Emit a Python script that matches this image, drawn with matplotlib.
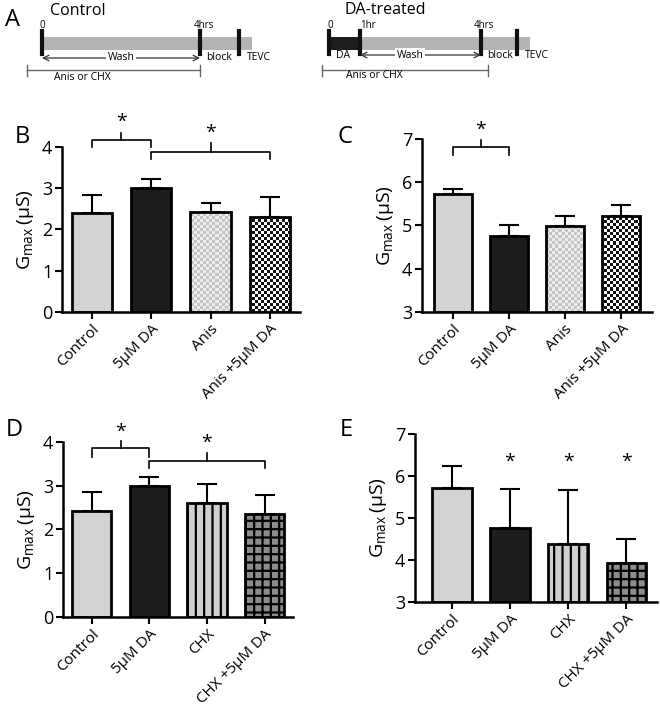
import numpy as np
import matplotlib
matplotlib.use("Agg")
import matplotlib.pyplot as plt
from matplotlib.colors import ListedColormap

plt.rcParams['font.family'] = ['Open Sans', 'DejaVu Sans']
plt.rcParams['mathtext.default'] = 'regular'
plt.rcParams['hatch.linewidth'] = 1.6

# data
labels_anis = ["Control", "5μM DA", "Anis", "Anis +5μM DA"]
labels_chx = ["Control", "5μM DA", "CHX", "CHX +5μM DA"]

b_vals = [2.40, 3.00, 2.42, 2.30]
b_tops = [2.83, 3.22, 2.65, 2.78]
c_vals = [5.72, 4.76, 4.99, 5.22]
c_tops = [5.85, 5.02, 5.22, 5.48]
d_vals = [2.42, 3.00, 2.61, 2.35]
d_tops = [2.85, 3.21, 3.05, 2.78]
e_vals = [5.72, 4.76, 4.38, 3.93]
e_tops = [6.24, 5.69, 5.67, 4.49]

W, H = 660, 720
fig = plt.figure(figsize=(W / 100, H / 100), dpi=100)


def texture(ax, bar, c1, c2, cell):
    x0, x1 = ax.get_xlim()
    y0, y1 = ax.get_ylim()
    pos = ax.get_position()
    nx = int(pos.width * W / cell)
    ny = int(pos.height * H / cell)
    ii, jj = np.indices((ny, nx))
    arr = (ii + jj) % 2
    im = ax.imshow(arr, cmap=ListedColormap([c1, c2]), extent=(x0, x1, y0, y1),
                   aspect='auto', interpolation='nearest', zorder=2)
    im.set_clip_path(bar)
    ax.set_xlim(x0, x1)
    ax.set_ylim(y0, y1)


def bracket(ax, xa, xb, y, arm, tick, star_y):
    ax.plot([xa, xa, xb, xb], [y - arm, y, y, y - arm], color='k', lw=1.2, clip_on=False)
    xm = (xa + xb) / 2
    ax.plot([xm, xm], [y, y + tick], color='k', lw=1.2, clip_on=False)
    ax.text(xm, star_y, '*', ha='center', va='center', fontsize=14, clip_on=False)


def panel(rect, vals, tops, labels, ylim, styles, xlim):
    ax = fig.add_axes(rect)
    x = np.arange(len(vals))
    ax.set_xlim(*xlim)
    ax.set_ylim(*ylim)
    base = ylim[0]
    heights = [v - base for v in vals]
    errs = [t - v for v, t in zip(vals, tops)]
    ax.errorbar(x, vals, yerr=[np.zeros(len(vals)), errs], fmt='none', ecolor='k',
                elinewidth=1.5, capsize=7, capthick=1.5, zorder=1)
    for i, st in enumerate(styles):
        kind = st[0]
        if kind == 'solid':
            ax.bar(x[i], heights[i], bottom=base, width=0.68, color=st[1],
                   edgecolor='k', linewidth=2, zorder=2)
        elif kind == 'hatch':
            ax.bar(x[i], heights[i], bottom=base, width=0.68, color=st[1],
                   edgecolor='k', hatch=st[2], linewidth=2, zorder=2)
        else:
            b = ax.bar(x[i], heights[i], bottom=base, width=0.68, color='white',
                       edgecolor='none', linewidth=0, zorder=2)[0]
            texture(ax, b, st[1], st[2], st[3])
            ax.bar(x[i], heights[i], bottom=base, width=0.68, fill=False,
                   edgecolor='k', linewidth=2, zorder=3)
    for s in ['top', 'right']:
        ax.spines[s].set_visible(False)
    for s in ['left', 'bottom']:
        ax.spines[s].set_linewidth(1.8)
    ax.spines['bottom'].set_zorder(4)
    ax.set_yticks(np.arange(ylim[0], ylim[1] + 1, 1))
    ax.tick_params(width=1.5, length=5, labelsize=13, pad=2)
    ax.set_xticks(x)
    ax.set_xticklabels(labels, rotation=45, ha='right', rotation_mode='anchor', fontsize=11)
    ax.set_ylabel('G$_{max}$\u2009(μS)', fontsize=14, labelpad=4)
    return ax


anis_styles = [('solid', '#d2d2d2'), ('solid', '#1c1c1c'),
               ('tex', '#ececec', '#c4c4c4', 3), ('tex', '#ffffff', '#111111', 3)]
chx_styles = [('solid', '#d2d2d2'), ('solid', '#1c1c1c'),
              ('hatch', '#cfcfcf', '||'), ('hatch', '#8c8c8c', '++')]

axB = panel([0.094, 0.5667, 0.36, 0.2292], b_vals, b_tops, labels_anis, (0, 4), anis_styles, (-0.5, 3.5))
bracket(axB, 0, 1, 4.17, 0.17, 0.18, 4.6)
bracket(axB, 1, 3, 3.88, 0.18, 0.22, 4.35)

axC = panel([0.639, 0.5667, 0.349, 0.2403], c_vals, c_tops, labels_anis, (3, 7), anis_styles, (-0.55, 3.55))
bracket(axC, 0, 1, 6.82, 0.19, 0.16, 7.22)

axD = panel([0.0955, 0.1431, 0.349, 0.243], d_vals, d_tops, labels_chx, (0, 4), chx_styles, (-0.5, 3.5))
bracket(axD, 0, 1, 3.86, 0.2, 0.16, 4.23)
bracket(axD, 1, 3, 3.57, 0.17, 0.18, 3.98)

axE = panel([0.629, 0.1639, 0.366, 0.2333], e_vals, e_tops, labels_chx, (3, 7), chx_styles, (-0.63, 3.52))
for i in [1, 2, 3]:
    axE.text(i, 6.33, '*', ha='center', va='center', fontsize=14)

# panel letters
for lab, px, py in [('A', 13, 20), ('B', 22, 137), ('C', 345, 137), ('D', 14, 430), ('E', 346, 430)]:
    fig.text(px / W, 1 - py / H, lab, fontsize=17, ha='center', va='center')

# panel A timelines (pixel coordinates)
axA = fig.add_axes([0, 0, 1, 1], zorder=-1)
axA.set_xlim(0, W)
axA.set_ylim(H, 0)
axA.axis('off')
wbox = dict(facecolor='white', edgecolor='none', pad=1)


def vbar(x):
    axA.plot([x, x], [31, 54], color='#111111', lw=3)


# control
axA.text(50, 11, 'Control', fontsize=11.5, va='center')
axA.add_patch(plt.Rectangle((42, 37), 210, 13, color='#b4b4b4', lw=0))
for xx in [42, 200, 239]:
    vbar(xx)
axA.text(42, 25, '0', fontsize=7, ha='center', va='center')
axA.text(204, 25, '4hrs', fontsize=7, ha='center', va='center')
axA.annotate('', xy=(42, 58), xytext=(200, 58),
             arrowprops=dict(arrowstyle='<->', lw=0.9, color='#333333', shrinkA=0, shrinkB=0))
axA.text(121, 58, 'Wash', fontsize=7.5, ha='center', va='center', bbox=wbox)
axA.text(206, 58, 'block', fontsize=7.5, va='center')
axA.text(247, 58, 'TEVC', fontsize=7.5, va='center')
axA.plot([27, 200], [70, 70], color='#666666', lw=1)
axA.plot([27, 27], [65, 76], color='#666666', lw=1)
axA.plot([200, 200], [65, 76], color='#666666', lw=1)
axA.text(54, 77, 'Anis or CHX', fontsize=7.5, va='center')

# DA-treated
axA.text(345, 10, 'DA-treated', fontsize=11.5, va='center')
axA.add_patch(plt.Rectangle((360, 37), 170, 13, color='#b4b4b4', lw=0))
axA.add_patch(plt.Rectangle((329, 37), 31, 13, color='#1e1e1e', lw=0))
for xx in [329, 360, 481, 517]:
    vbar(xx)
axA.text(330, 25, '0', fontsize=7, ha='center', va='center')
axA.text(360, 25, '1hr', fontsize=7, va='center')
axA.text(484, 25, '4hrs', fontsize=7, ha='center', va='center')
axA.text(343, 55, 'DA', fontsize=7.5, ha='center', va='center')
axA.annotate('', xy=(360, 55), xytext=(481, 55),
             arrowprops=dict(arrowstyle='<->', lw=0.9, color='#333333', shrinkA=0, shrinkB=0))
axA.text(410, 55, 'Wash', fontsize=7.5, ha='center', va='center', bbox=wbox)
axA.text(487, 55, 'block', fontsize=7.5, va='center')
axA.text(525, 55, 'TEVC', fontsize=7.5, va='center')
axA.plot([322, 488], [70, 70], color='#666666', lw=1)
axA.plot([322, 322], [65, 76], color='#666666', lw=1)
axA.plot([488, 488], [65, 76], color='#666666', lw=1)
axA.text(346, 76, 'Anis or CHX', fontsize=7.5, va='center')

fig.savefig('out.png', dpi=100)
